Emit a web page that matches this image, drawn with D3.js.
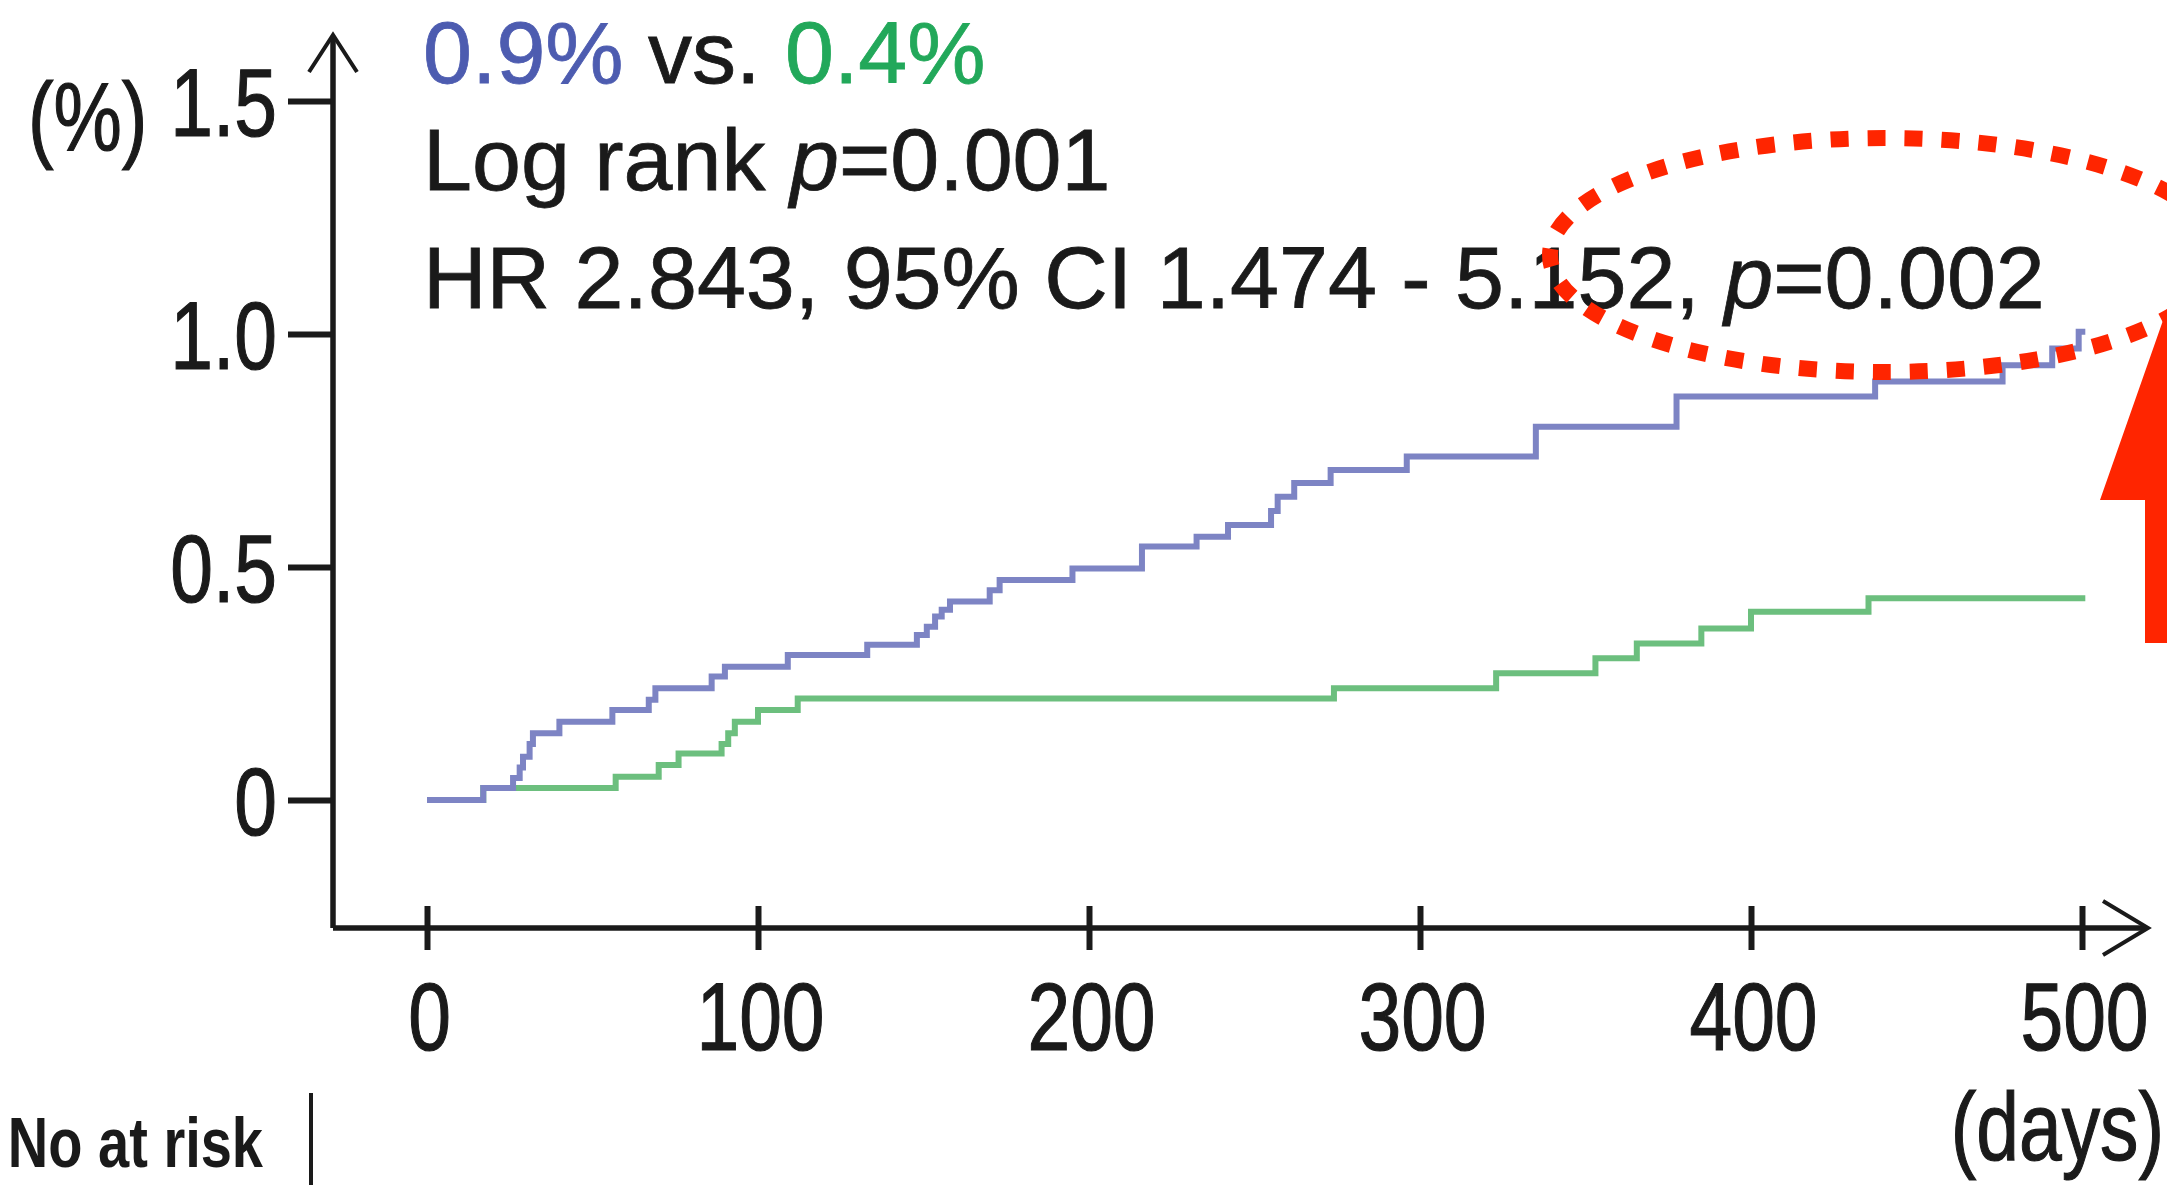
<!DOCTYPE html>
<html><head><meta charset="utf-8">
<script src="https://cdn.jsdelivr.net/npm/d3@7"></script>
<style>html,body{margin:0;padding:0;background:#fff;overflow:hidden}</style>
</head><body><svg id="c" width="2167" height="1185" xmlns="http://www.w3.org/2000/svg"></svg>
<script>
// ---- data ----
const blueDays = [0, 17, 26, 28, 29, 31, 32, 40, 56, 67, 69, 86, 90, 109, 133, 148, 151, 153.5, 155.5, 158, 170, 173, 195, 216, 232.5, 242, 255, 257, 262, 273, 296, 335, 377.5, 437.5, 476, 491, 499, 501];
const blueVals = [0, 0.026, 0.047, 0.07, 0.093, 0.12, 0.143, 0.168, 0.193, 0.215, 0.24, 0.265, 0.286, 0.311, 0.333, 0.354, 0.372, 0.394, 0.408, 0.426, 0.45, 0.472, 0.497, 0.544, 0.565, 0.59, 0.62, 0.651, 0.68, 0.708, 0.737, 0.801, 0.866, 0.898, 0.933, 0.969, 1.005, 1.005];
const greenDays = [0, 17, 57, 70, 76, 89, 91, 93, 100, 112, 274, 323, 353, 365.5, 385, 400, 435.5, 501];
const greenVals = [0, 0.026, 0.05, 0.075, 0.1, 0.12, 0.143, 0.168, 0.193, 0.218, 0.24, 0.272, 0.304, 0.336, 0.368, 0.404, 0.433, 0.433];
const xTicks = [0, 100, 200, 300, 400, 500];
const xTickLabels = ["0", "100", "200", "300", "400", "500"];
const yTicks = [0, 0.5, 1.0, 1.5];
const yTickLabels = ["0", "0.5", "1.0", "1.5"];
const rateLabels = ["0.9%", "0.4%"];
const logRankText = ["Log rank ", "p", "=0.001"];
const hrText = ["HR 2.843, 95% CI 1.474 - 5.152, ", "p", "=0.002"];
const xAxisTitle = "(days)";
const yAxisTitle = "(%)";
const riskTitle = "No at risk";

// ---- drawing ----
const FONT = "'Liberation Sans', Arial, Helvetica, sans-serif";
const INK = "#1a1a1a";
const BLUE_LINE = "#7d84c4", GREEN_LINE = "#6cbf7e";
const BLUE_TXT = "#4d5cb0", GREEN_TXT = "#22a85a";
const RED = "#ff2500";

const svg = d3.select("#c");
const x = d3.scaleLinear().domain([0, 500]).range([427, 2082]);
const y = d3.scaleLinear().domain([0, 1.5]).range([800, 101]);
const axisY0 = 928, axisX0 = 333;

// curves
const line = d3.line().x(d => x(d[0])).y(d => y(d[1])).curve(d3.curveStepAfter);
svg.append("path").datum(d3.zip(greenDays, greenVals)).attr("d", line)
  .attr("fill", "none").attr("stroke", GREEN_LINE).attr("stroke-width", 6);
svg.append("path").datum(d3.zip(blueDays, blueVals)).attr("d", line)
  .attr("fill", "none").attr("stroke", BLUE_LINE).attr("stroke-width", 6);

// y axis
const gy = svg.append("g").attr("transform", `translate(${axisX0},0)`)
  .call(d3.axisLeft(y).tickValues(yTicks).tickFormat((d, i) => yTickLabels[i]).tickSize(45).tickPadding(0));
gy.select(".domain").remove();
gy.selectAll(".tick line").attr("stroke", INK).attr("stroke-width", 6);
gy.selectAll(".tick text").attr("x", null).attr("dy", null)
  .attr("font-size", 96).attr("font-family", FONT).attr("fill", INK).attr("text-anchor", "end")
  .attr("stroke", INK).attr("stroke-width", 1.2)
  .attr("transform", "translate(-56,34) scale(0.8,1)");

// x axis
const gx = svg.append("g").attr("transform", `translate(0,${axisY0})`)
  .call(d3.axisBottom(x).tickValues(xTicks).tickFormat((d, i) => xTickLabels[i]).tickSize(22).tickPadding(0));
gx.select(".domain").remove();
gx.selectAll(".tick line").attr("y1", -22).attr("y2", 22).attr("stroke", INK).attr("stroke-width", 6);
gx.selectAll(".tick text").attr("y", null).attr("dy", null)
  .attr("font-size", 96).attr("font-family", FONT).attr("fill", INK).attr("text-anchor", "middle")
  .attr("stroke", INK).attr("stroke-width", 1.2)
  .attr("transform", "translate(2,122) scale(0.8,1)");

// axis lines with open arrow heads
const axisG = svg.append("g").attr("fill", "none").attr("stroke", INK).attr("stroke-width", 5.5);
axisG.append("path").attr("d", `M${axisX0},${axisY0}V36`);
axisG.append("path").attr("d", `M${axisX0 - 24},72L${axisX0},35L${axisX0 + 24},72`).attr("stroke-width", 4);
axisG.append("path").attr("d", `M${axisX0},${axisY0}H2146`);
axisG.append("path").attr("d", `M2103,901L2148,${axisY0}L2103,955`).attr("stroke-width", 4);

// axis titles
svg.append("text").attr("transform", "translate(28,150) scale(0.8,1)")
  .attr("font-size", 96).attr("font-family", FONT).attr("fill", INK)
  .attr("stroke", INK).attr("stroke-width", 1.2).text(yAxisTitle);
svg.append("text").attr("transform", "translate(2164,1160) scale(0.8,1)").attr("text-anchor", "end")
  .attr("font-size", 96).attr("font-family", FONT).attr("fill", INK)
  .attr("stroke", INK).attr("stroke-width", 1.2).text(xAxisTitle);

// number at risk header
svg.append("text").attr("transform", "translate(263,1167) scale(0.8,1)").attr("text-anchor", "end")
  .attr("font-size", 70).attr("font-weight", "bold").attr("font-family", FONT).attr("fill", INK).text(riskTitle);
svg.append("line").attr("x1", 311).attr("x2", 311).attr("y1", 1093).attr("y2", 1185)
  .attr("stroke", INK).attr("stroke-width", 4);

// statistics annotation
const ann = svg.append("g").attr("font-family", FONT).attr("font-size", 88).attr("fill", INK)
  .style("white-space", "pre");
const t1 = ann.append("text").attr("x", 423).attr("y", 83);
t1.append("tspan").attr("fill", BLUE_TXT).attr("stroke", BLUE_TXT).attr("stroke-width", 0.8).text(rateLabels[0]);
t1.append("tspan").attr("stroke", INK).attr("stroke-width", 0.8).text(" vs. ");
t1.append("tspan").attr("fill", GREEN_TXT).attr("stroke", GREEN_TXT).attr("stroke-width", 0.8).text(rateLabels[1]);
const t2 = ann.append("text").attr("x", 423).attr("y", 190).attr("stroke", INK).attr("stroke-width", 0.8);
t2.append("tspan").text(logRankText[0]);
t2.append("tspan").attr("font-style", "italic").text(logRankText[1]);
t2.append("tspan").text(logRankText[2]);
const t3 = ann.append("text").attr("x", 423).attr("y", 308).attr("stroke", INK).attr("stroke-width", 0.8);
t3.append("tspan").text(hrText[0]);
t3.append("tspan").attr("font-style", "italic").text(hrText[1]);
t3.append("tspan").text(hrText[2]);

// red highlight: dotted ellipse and arrow
svg.append("ellipse").attr("cx", 1885).attr("cy", 255).attr("rx", 335).attr("ry", 117)
  .attr("fill", "none").attr("stroke", RED).attr("stroke-width", 16).attr("stroke-dasharray", "18 19");
svg.append("path").attr("d", "M2145,643V500H2100L2200,215L2300,500H2255V643Z").attr("fill", RED);
</script>
</body></html>
